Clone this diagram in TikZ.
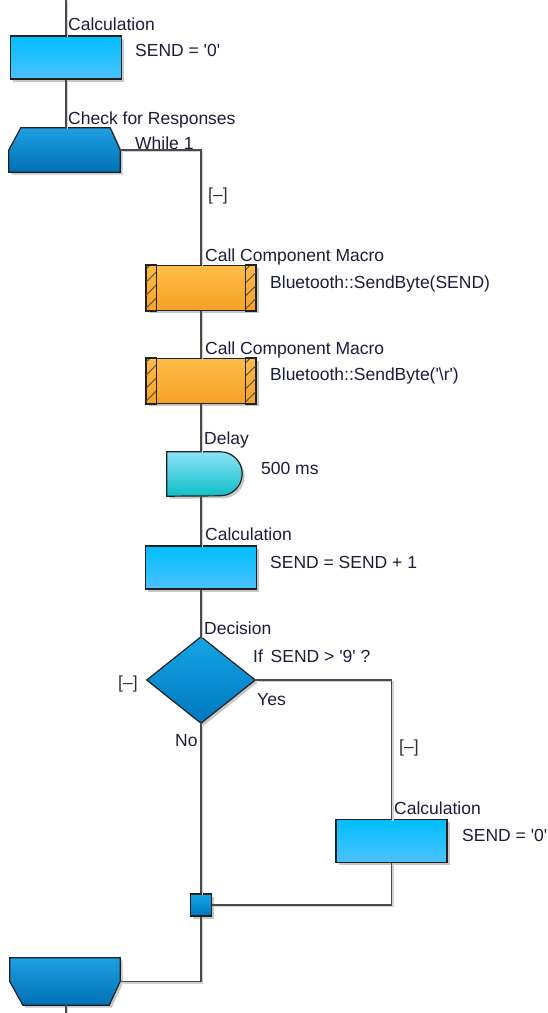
\documentclass[tikz,border=0pt]{standalone}
\usepackage{fontspec}
\setmainfont{Liberation Sans}
\usetikzlibrary{shapes.geometric,shadows,calc}

\definecolor{txt}{HTML}{1C1C3C}
\definecolor{wire}{HTML}{4A4A4A}
\definecolor{edge}{HTML}{202020}
\definecolor{calcTop}{HTML}{00BEFF}
\definecolor{calcBot}{HTML}{4CC2FF}
\definecolor{loopTop}{HTML}{1EA0E2}
\definecolor{loopBot}{HTML}{0070B6}
\definecolor{callTop}{HTML}{FFBC48}
\definecolor{callBot}{HTML}{F6A224}
\definecolor{delayTop}{HTML}{8CE4F8}
\definecolor{delayBot}{HTML}{0EBEC6}
\definecolor{decTop}{HTML}{14A6E6}
\definecolor{decBot}{HTML}{0076BE}

\newcommand\q{\textquotesingle}

\tikzset{
  lbl/.style={anchor=base west, inner sep=0pt, text=txt,
    font=\fontsize{17.5}{20}\selectfont},
  tog/.style={anchor=base west, inner sep=0pt, text=black!80,
    font=\fontsize{17.5}{20}\selectfont},
  outline/.style={draw=edge, line width=1.2pt},
  shade/.style={drop shadow={shadow xshift=2.5pt, shadow yshift=-2.5pt,
    fill=black, opacity=0.22}},
  calcbox/.style={rectangle, outline, shade, inner sep=0pt,
    minimum width=111pt, minimum height=43pt,
    top color=calcTop, bottom color=calcBot},
  callbox/.style={rectangle, outline, shade, inner sep=0pt,
    minimum width=110pt, minimum height=45pt,
    top color=callTop, bottom color=callBot},
  frame/.style={rectangle, inner sep=0pt, draw=none},
  conn/.style={draw=wire, line width=1.4pt,
    preaction={draw=black!18, line width=1.4pt,
      transform canvas={shift={(1.6pt,-1.6pt)}}}},
  hatch/.style={draw=edge!80, line width=0.9pt},
}

% hatched side strip of a component macro box: #1 top-left, #2 bottom-right
\newcommand\hatchstrip[2]{%
  \begin{scope}
    \clip (#1) rectangle (#2);
    \foreach \k in {0,...,6}
      \draw[hatch] ($(#1)+(-2,-6+13*\k)$) -- ++(16,-16);
  \end{scope}
  \draw[outline] (#1) rectangle (#2);}

\begin{document}
\begin{tikzpicture}[x=1pt,y=-1pt]
\clip (0,0) rectangle (547,1013);
\fill[white] (0,0) rectangle (547,1013);

\coordinate (top) at (66,0);
\coordinate (bottom) at (66,1013);

% ---- first calculation
\node[calcbox] (calc1) at (66,57.5) {};
\node[lbl] (calc1t) at (68,30) {Calculation};
\node[lbl] (calc1e) at (135,56) {SEND = \q0\q};

% ---- loop start
\node[frame, minimum width=111pt, minimum height=44pt] (loop) at (64.5,150) {};
\path[outline, shade, top color=loopTop, bottom color=loopBot]
  (loop.south west) -- (loop.west) -- ($(loop.north west)+(12,0)$)
  -- ($(loop.north east)+(-10,0)$) -- (loop.east) -- (loop.south east) -- cycle;
\node[lbl] (loopt) at (68,124) {Check for Responses};
\node[lbl] (loope) at (135,149) {While 1};
\node[tog] (tog1) at (208,200) {[–]};

% ---- component macro calls
\node[callbox] (call1) at (201,288) {};
\hatchstrip{call1.north west}{$(call1.south west)+(11,0)$}
\hatchstrip{$(call1.north east)+(-11,0)$}{call1.south east}
\node[lbl] (call1t) at (205,261) {Call Component Macro};
\node[lbl] (call1e) at (270,288) {Bluetooth::SendByte(SEND)};

\node[callbox] (call2) at (201,381) {};
\hatchstrip{call2.north west}{$(call2.south west)+(11,0)$}
\hatchstrip{$(call2.north east)+(-11,0)$}{call2.south east}
\node[lbl] (call2t) at (205,354) {Call Component Macro};
\node[lbl] (call2e) at (270,380) {Bluetooth::SendByte(\q\textbackslash r\q)};

% ---- delay
\node[frame, minimum width=75pt, minimum height=44pt] (delay) at (204.5,474) {};
\path[outline, shade, top color=delayTop, bottom color=delayBot]
  (delay.south west) -- (delay.north west) -- ($(delay.north east)+(-22,0)$)
  arc[start angle=-90, end angle=90, radius=22]
  -- cycle;
\node[lbl] (delayt) at (204,444) {Delay};
\node[lbl] (delaye) at (261,474) {500 ms};

% ---- second calculation
\node[calcbox] (calc2) at (201,567.5) {};
\node[lbl] (calc2t) at (205,540) {Calculation};
\node[lbl] (calc2e) at (270,568) {SEND = SEND + 1};

% ---- decision
\node[diamond, outline, shade, inner sep=0pt, minimum width=109pt,
  minimum height=87pt, top color=decTop, bottom color=decBot]
  (dec) at (201,680) {};
\node[lbl] (dect) at (204,634) {Decision};
\node[lbl] (dece) at (253,662) {If\, SEND > \q9\q\ ?};
\node[tog] (tog2) at (118,688) {[–]};
\node[lbl] (yes) at (257,705) {Yes};
\node[lbl] (no) at (175,746) {No};
\node[tog] (tog3) at (399,752) {[–]};

% ---- third calculation
\node[calcbox] (calc3) at (391.5,841) {};
\node[lbl] (calc3t) at (394,814) {Calculation};
\node[lbl] (calc3e) at (462,841) {SEND = \q0\q};

% ---- junction
\node[rectangle, outline, shade, inner sep=0pt, minimum width=21pt,
  minimum height=22pt, top color=decTop, bottom color=decBot]
  (join) at (201,905) {};

% ---- loop end
\node[frame, minimum width=110pt, minimum height=47pt] (lend) at (65,981.5) {};
\path[outline, shade, top color=loopTop, bottom color=loopBot]
  (lend.north west) -- (lend.north east) -- (lend.east)
  -- ($(lend.south east)+(-11,0)$) -- ($(lend.south west)+(13,0)$)
  -- (lend.west) -- cycle;

% ---- connectors
\draw[conn] (top) -- (calc1.north);
\draw[conn] (calc1.south) -- (calc1.south |- loop.north);
\draw[conn] (loop.east) -| (call1.north);
\draw[conn] (call1.south) -- (call2.north);
\draw[conn] (call2.south) -- (call2.south |- delay.north);
\draw[conn] (call2.south |- delay.south) -- (calc2.north);
\draw[conn] (calc2.south) -- (dec.north);
\draw[conn] (dec.east) -| (calc3.north);
\draw[conn] (calc3.south) |- (join.east);
\draw[conn] (dec.south) -- (join.north);
\draw[conn] (join.south) |- (lend.east);
\draw[conn] (lend.south -| bottom) -- (bottom);
\end{tikzpicture}
\end{document}
